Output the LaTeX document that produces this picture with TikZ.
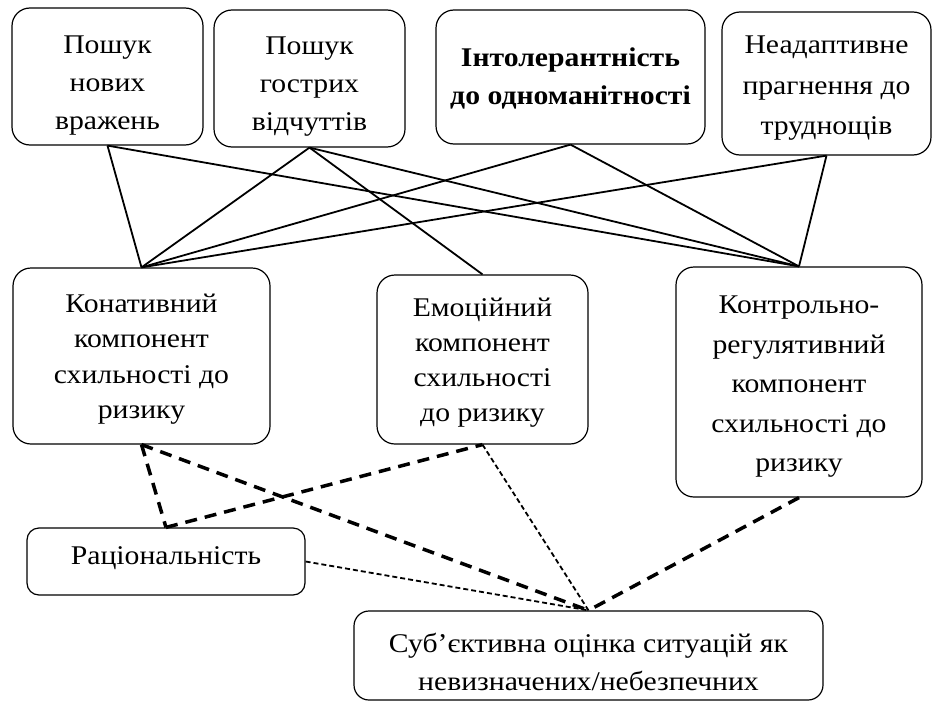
\documentclass[tikz,border=0pt]{standalone}
\usepackage{fontspec}
\setmainfont{Liberation Serif}[FakeStretch=1.1]
\begin{document}
\begin{tikzpicture}[x=1pt,y=-1pt,
  box/.style={draw, rounded corners=18pt, line width=1.2pt, inner sep=0pt},
  txt/.style={align=center, inner sep=0pt, font=\fontsize{27}{38}\selectfont},
  solidlink/.style={line width=1.8pt},
  thickdash/.style={line width=3.5pt, dash pattern=on 12pt off 8pt},
  thindash/.style={line width=1.8pt, dash pattern=on 5pt off 3pt}]
\useasboundingbox (0,0) rectangle (933,709);
% top row
\node[box, minimum width=191pt, minimum height=137pt,
  label={[txt, yshift=-9pt]center:Пошук\\нових\\вражень}] (a) at (107.5,76.5) {};
\node[box, minimum width=191pt, minimum height=137pt,
  label={[txt, yshift=-8pt]center:Пошук\\гострих\\відчуттів}] (b) at (309.5,78.5) {};
\node[box, minimum width=269pt, minimum height=134pt,
  label={[txt, font=\fontsize{27}{38}\selectfont\bfseries, yshift=-1pt]center:Інтолерантність\\до одноманітності}] (c) at (570.5,77) {};
\node[box, minimum width=209pt, minimum height=143pt,
  label={[txt, font=\fontsize{27}{40.5}\selectfont, yshift=-5pt]center:Неадаптивне\\прагнення до\\труднощів}] (d) at (826.5,83.5) {};
% middle row
\node[box, minimum width=257pt, minimum height=176pt,
  label={[txt, font=\fontsize{27}{35.5}\selectfont, yshift=-3pt]center:Конативний\\компонент\\схильності до\\ризику}] (kon) at (141.5,356) {};
\node[box, minimum width=211pt, minimum height=169pt,
  label={[txt, font=\fontsize{27}{35}\selectfont, yshift=-3pt]center:Емоційний\\компонент\\схильності\\до ризику}] (emo) at (482.5,359.5) {};
\node[box, minimum width=246pt, minimum height=230pt,
  label={[txt, font=\fontsize{27}{39.5}\selectfont, yshift=-5pt]center:Контрольно-\\регулятивний\\компонент\\схильності до\\ризику}] (ctr) at (799,382) {};
% bottom
\node[box, rounded corners=12pt, minimum width=278pt, minimum height=67pt,
  label={[txt, yshift=3pt]center:Раціональність}] (rac) at (166,561.5) {};
\node[box, rounded corners=15pt, minimum width=469pt, minimum height=89pt,
  label={[txt, yshift=-6pt]center:Суб’єктивна оцінка ситуацій як\\невизначених/небезпечних}] (sub) at (588.5,655.5) {};
% solid links
\draw[solidlink] (a.south) -- (kon.north);
\draw[solidlink] (a.south) -- (ctr.north);
\draw[solidlink] (b.south) -- (kon.north);
\draw[solidlink] (b.south) -- (emo.north);
\draw[solidlink] (b.south) -- (ctr.north);
\draw[solidlink] (c.south) -- (kon.north);
\draw[solidlink] (c.south) -- (ctr.north);
\draw[solidlink] (d.south) -- (kon.north);
\draw[solidlink] (d.south) -- (ctr.north);
% dashed links
\draw[thickdash] (kon.south) -- (rac.north);
\draw[thickdash] (rac.north) -- (emo.south);
\draw[thickdash] (kon.south) -- (sub.north);
\draw[thickdash] (ctr.south) -- (sub.north);
\draw[thindash] (emo.south) -- (sub.north);
\draw[thindash] (rac.east) -- (sub.north);
\end{tikzpicture}
\end{document}
